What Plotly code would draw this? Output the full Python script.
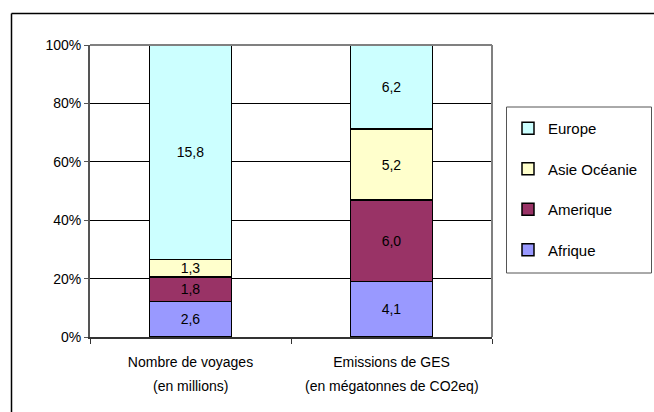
import plotly.graph_objects as go

# Categories (x axis) and their unit lines
categories = ["Nombre de voyages", "Emissions de GES"]
units = ["(en millions)", "(en mégatonnes de CO2eq)"]

# Series values per region
afrique = [2.6, 4.1]
amerique = [1.8, 6.0]
asie_oceanie = [1.3, 5.2]
europe = [15.8, 6.2]

series = [
    ("Afrique", afrique, "#9999FF"),
    ("Amerique", amerique, "#993366"),
    ("Asie Océanie", asie_oceanie, "#FFFFCC"),
    ("Europe", europe, "#CCFFFF"),
]

y_ticks = [0, 20, 40, 60, 80, 100]

W, H = 654, 412
L, R, T, B = 90, 162, 45, 75
pw, ph = W - L - R, H - T - B

FONT = "Liberation Sans, Arial, sans-serif"

fig = go.Figure()
n = len(series)
for i, (name, vals, color) in enumerate(series):
    fig.add_trace(go.Bar(
        name=name,
        x=categories,
        y=vals,
        text=[f"{v:.1f}".replace(".", ",") for v in vals],
        textposition="inside",
        insidetextanchor="middle",
        textangle=0,
        textfont=dict(family=FONT, size=14, color="#000000"),
        marker=dict(color=color, line=dict(color="#000000", width=1.5)),
        legendgroup=name,
        legendrank=n - i,
        hoverinfo="skip",
    ))

def px_x(px):
    return (px - L) / pw

def px_y(py):
    return 1 - (py - T) / ph

shapes = [
    # outer chart frame (left and top edges)
    dict(type="line", xref="paper", yref="paper",
         x0=px_x(11.5), x1=px_x(660), y0=px_y(13.5), y1=px_y(13.5),
         line=dict(color="#000000", width=1.5)),
    dict(type="line", xref="paper", yref="paper",
         x0=px_x(11.5), x1=px_x(11.5), y0=px_y(13.5), y1=px_y(420),
         line=dict(color="#000000", width=1.5)),
    # legend box
    dict(type="rect", xref="paper", yref="paper",
         x0=px_x(506.5), x1=px_x(651.5), y0=px_y(107), y1=px_y(273),
         line=dict(color="#555555", width=1), fillcolor="rgba(0,0,0,0)"),
    # gray border on top and right of the plotting area
    dict(type="line", xref="paper", yref="paper", x0=0, x1=1, y0=1, y1=1,
         line=dict(color="#808080", width=2)),
    dict(type="line", xref="paper", yref="paper", x0=1, x1=1, y0=0, y1=1,
         line=dict(color="#808080", width=2)),
]

annotations = [
    dict(x=c, y=px_y(386), xref="x", yref="paper", text=u, showarrow=False,
         font=dict(family=FONT, size=14, color="#000000"),
         xanchor="center", yanchor="middle")
    for c, u in zip(categories, units)
]

fig.update_layout(
    width=W, height=H,
    margin=dict(l=L, r=R, t=T, b=B, autoexpand=False),
    paper_bgcolor="#FFFFFF",
    plot_bgcolor="#FFFFFF",
    barmode="stack",
    barnorm="percent",
    bargap=0.59,
    uniformtext=dict(minsize=13, mode="show"),
    font=dict(family=FONT, size=14, color="#000000"),
    showlegend=True,
    legend=dict(
        x=px_x(508), y=px_y(112), xanchor="left", yanchor="top",
        traceorder="grouped",
        tracegroupgap=18,
        font=dict(family=FONT, size=15, color="#000000"),
        bgcolor="rgba(0,0,0,0)",
        borderwidth=0,
        itemclick=False,
    ),
    xaxis=dict(
        type="category",
        showline=True, linecolor="#333333", linewidth=1.5,
        ticks="outside", tickson="boundaries", ticklen=5, tickcolor="#333333",
        ticklabelstandoff=11,
        showgrid=False,
        tickfont=dict(family=FONT, size=14, color="#000000"),
    ),
    yaxis=dict(
        range=[0, 100],
        tickvals=y_ticks,
        ticktext=[f"{v}%" for v in y_ticks],
        showline=True, linecolor="#555555", linewidth=2,
        ticks="outside", ticklen=4, tickcolor="#555555",
        showgrid=True, gridcolor="#000000", gridwidth=1,
        zeroline=False,
        tickfont=dict(family=FONT, size=14, color="#000000"),
    ),
    shapes=shapes,
    annotations=annotations,
)

fig.write_html("out.html")
